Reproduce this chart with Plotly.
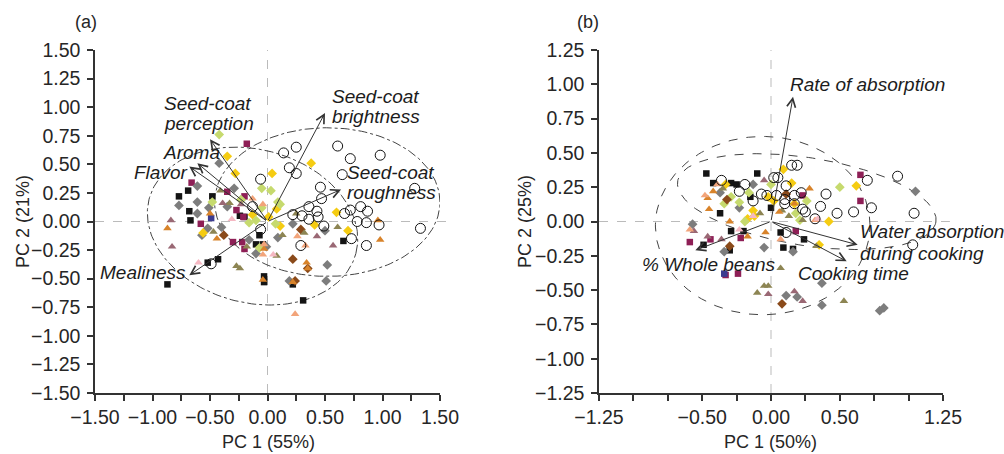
import numpy as np
import plotly.graph_objects as go

# ---------------- Panel (a) data ----------------
a_circle_x = [0.14,0.25,0.61,0.72,0.98,0.19,0.25,-0.06,0.46,0.47,0.65,1.28,1.33,0.36,0.43,0.22,0.30,0.36,0.44,0.49,0.72,0.67,0.81,0.87,0.78,0.86,0.97,0.73,0.86,0.29,-0.06,-0.49,-0.13]
a_circle_y = [0.60,0.65,0.66,0.55,0.58,0.47,0.42,0.37,0.30,0.20,0.41,0.29,-0.06,0.13,0.09,0.06,0.05,0.02,0.04,-0.04,0.10,0.07,0.13,0.09,0.00,-0.01,-0.03,-0.15,-0.21,-0.21,-0.07,-0.37,0.13]
a_black_x = [-0.77,-0.69,-0.68,-0.67,-0.48,-0.24,-0.20,-0.07,-0.10,-0.04,-0.03,-0.03,-0.52,-0.43,-0.87,0.22,0.31,0.66]
a_black_y = [0.22,0.27,0.09,0.01,0.22,0.05,0.04,-0.12,-0.20,-0.20,-0.48,-0.53,-0.36,-0.33,-0.55,-0.55,-0.69,-0.17]
a_maroon_x = [-0.18,-0.66,-0.35,-0.20,-0.27,-0.21,-0.58,-0.30,-0.22,-0.20]
a_maroon_y = [0.68,0.34,0.26,0.22,0.10,0.04,-0.02,-0.18,-0.18,-0.24]
a_gray_x = [-0.42,-0.61,-0.77,-0.61,-0.61,-0.57,-0.52,-0.51,-0.29,-0.23,-0.16,-0.10,0.22,0.09,0.50,0.19,0.51,0.52,-0.35,-0.01,-0.40]
a_gray_y = [0.51,0.31,0.14,0.17,0.07,-0.12,-0.06,0.12,0.29,0.19,-0.16,-0.28,-0.02,-0.14,-0.08,-0.52,-0.52,-0.38,0.13,-0.22,-0.05]
a_yellow_x = [-0.35,-0.28,0.04,0.38,0.01,0.08,0.11,0.41,0.60,0.70,-0.13,-0.56]
a_yellow_y = [0.57,0.42,0.42,0.51,0.04,0.11,-0.04,-0.03,0.08,-0.08,0.06,-0.10]
a_lgreen_x = [-0.42,-0.48,-0.16,-0.10,-0.05,0.03,0.09,0.11,0.07,-0.07,-0.23,-0.05]
a_lgreen_y = [0.76,0.17,-0.01,0.01,0.29,0.27,0.17,0.15,-0.02,-0.23,0.19,0.12]
a_olive_x = [-0.41,-0.33,-0.47,-0.27,-0.24,-0.18,0.08,0.13,0.32,0.61,0.25]
a_olive_y = [0.27,0.16,-0.09,-0.39,-0.41,-0.22,-0.30,-0.12,-0.10,-0.05,0.07]
a_mauve_x = [-0.84,-0.83,-0.39,-0.23,0.43,0.57]
a_mauve_y = [0.01,-0.22,0.16,0.15,-0.13,-0.21]
a_orange_x = [-0.87,-0.50,-0.44,-0.03,-0.04,0.34,0.35,0.96,0.98,0.22]
a_orange_y = [-0.06,0.07,-0.15,-0.24,-0.51,-0.36,-0.41,0.01,-0.16,-0.53]
a_salmon_x = [-0.04,-0.04,0.26,0.33,0.24,-0.13,-0.03]
a_salmon_y = [0.15,-0.29,-0.13,-0.21,-0.81,0.20,-0.20]
a_brown_x = [0.29,0.22,0.35,0.24,-0.38]
a_brown_y = [-0.07,-0.33,-0.41,-0.52,-0.12]
a_pink_x = [-0.60,-0.31,0.05]
a_pink_y = [-0.36,0.02,-0.29]
a_navy_x = [-0.49]
a_navy_y = [0.03]

a_load_names = [["Seed-coat", "brightness"], ["Seed-coat", "roughness"], ["Seed-coat", "perception"], ["Aroma"], ["Flavor"], ["Mealiness"]]
a_load_x = [0.50, 0.64, -0.50, -0.61, -0.68, -0.68]
a_load_y = [0.95, 0.28, 0.72, 0.51, 0.48, -0.47]
a_label_x = [0.54, 0.67, -0.92, -0.93, -1.18, -1.47]
a_label_y = [1.09, 0.43, 1.03, 0.60, 0.43, -0.45]

# ellipse params: cx, cy, a, b, angle(deg)
a_ell = [[0.52, 0.17, 0.98, 0.65, 0.0], [-0.13, -0.04, 0.93, 0.67, -15.0]]

# ---------------- Panel (b) data ----------------
b_circle_x = [-0.36,-0.19,-0.23,-0.13,-0.07,-0.03,0.02,0.05,0.15,0.19,0.11,0.04,0.10,0.10,0.17,0.22,0.17,0.23,0.25,0.32,0.36,0.40,0.48,0.60,0.70,0.73,0.92,1.04,1.03,0.11]
b_circle_y = [0.30,0.27,0.22,0.15,0.20,0.19,0.32,0.32,0.41,0.41,0.26,0.19,0.16,0.13,0.19,0.21,0.13,0.09,0.07,0.02,0.11,0.20,0.06,0.07,0.30,0.10,0.33,0.06,-0.17,-0.08]
b_black_x = [-0.47,-0.42,-0.29,-0.25,-0.10,-0.15,0.00,-0.37,-0.29,-0.20,-0.49,-0.30,0.07,0.09,0.16,0.24]
b_black_y = [0.35,0.28,0.28,0.27,0.35,0.18,0.10,0.06,-0.07,-0.07,-0.17,-0.21,-0.08,-0.19,-0.20,-0.13]
b_maroon_x = [-0.59,-0.44,-0.22,-0.33,-0.24,0.65,0.65,0.18,0.23]
b_maroon_y = [-0.15,-0.13,-0.12,-0.39,-0.38,0.34,0.15,-0.07,0.19]
b_gray_x = [-0.57,-0.37,-0.13,-0.05,0.16,0.37,0.37,0.11,0.19,0.79,0.82,1.05,-0.23,-0.34]
b_gray_y = [-0.02,0.21,0.27,-0.19,-0.22,-0.45,-0.61,-0.54,-0.55,-0.65,-0.63,0.22,0.10,-0.22]
b_yellow_x = [0.09,0.15,-0.33,-0.02,-0.13,-0.17,0.17,0.42,0.62,0.35,0.02,-0.12]
b_yellow_y = [0.38,0.28,0.27,0.18,0.08,0.02,0.13,0.00,0.26,-0.17,0.15,0.04]
b_lgreen_x = [-0.29,-0.23,-0.16,-0.34,0.00,0.21,0.26,0.50,0.18,-0.19]
b_lgreen_y = [0.18,0.14,0.21,0.13,0.27,0.01,0.15,0.25,0.06,0.00]
b_olive_x = [-0.35,-0.08,0.08,0.13,0.23,0.07,-0.05,-0.02,-0.10,0.53,0.33]
b_olive_y = [0.24,0.06,0.08,0.04,0.01,-0.34,-0.47,-0.47,-0.52,-0.58,-0.18]
b_mauve_x = [-0.05,-0.56,-0.46,-0.36,-0.02,0.17,0.23]
b_mauve_y = [0.30,-0.07,-0.11,-0.13,-0.53,-0.51,-0.58]
b_orange_x = [-0.42,-0.46,-0.45,-0.30,-0.17,-0.04,0.06,0.17,0.28]
b_orange_y = [0.22,0.17,0.09,0.00,-0.11,-0.08,0.07,0.13,0.24]
b_salmon_x = [-0.48,-0.39,-0.59,0.07,0.32]
b_salmon_y = [0.19,0.27,-0.06,-0.13,0.01]
b_brown_x = [-0.32,-0.30,0.08,0.11]
b_brown_y = [0.16,-0.18,-0.60,0.20]
b_pink_x = [0.34,-0.23,-0.13]
b_pink_y = [0.02,-0.06,0.04]
b_navy_x = [-0.34]
b_navy_y = [-0.38]

b_load_names = [["Rate of absorption"], ["Water absorption", "during cooking"], ["Cooking time"], ["% Whole beans"]]
b_load_x = [0.16, 0.63, 0.55, -0.55]
b_load_y = [0.91, -0.17, -0.29, -0.21]
b_label_x = [0.12, 0.63, 0.18, -0.95]
b_label_y = [1.00, -0.075, -0.38, -0.31]

b_ell = [[-0.06, -0.03, 0.78, 0.65, 0.0], [0.26, 0.145, 0.95, 0.32, -9.0]]

# ---------------- styles ----------------
groups = [
    ("black", "square", "#141414", 6.5),
    ("maroon", "square", "#8E1F56", 6.5),
    ("navy", "square", "#3C3C90", 6.5),
    ("gray", "diamond", "#7D7D7D", 7.5),
    ("yellow", "diamond", "#F5CC12", 7.5),
    ("lgreen", "diamond", "#C6DA6E", 7.5),
    ("brown", "diamond", "#8A4A1A", 7.5),
    ("olive", "triangle-up", "#8D8553", 7.5),
    ("mauve", "triangle-up", "#9A6874", 7.5),
    ("orange", "triangle-up", "#D8832A", 7.5),
    ("salmon", "triangle-up", "#F2A47A", 7.5),
    ("pink", "triangle-up", "#F5B8C3", 7.5),
]

data = globals()
fig = go.Figure()
FONT = "Liberation Sans, Arial, sans-serif"
TXT = "#262626"
LBL = "#1c1c1c"


def ellipse(cx, cy, a, b, ang):
    t = np.linspace(0, 2 * np.pi, 200)
    th = np.deg2rad(ang)
    x = cx + a * np.cos(t) * np.cos(th) - b * np.sin(t) * np.sin(th)
    y = cy + a * np.cos(t) * np.sin(th) + b * np.sin(t) * np.cos(th)
    return x, y


for p, xa, ya, ells, dash in [("a", "x", "y", a_ell, "dashdot"), ("b", "x2", "y2", b_ell, "dash")]:
    for e in ells:
        ex, ey = ellipse(*e)
        fig.add_trace(go.Scatter(x=ex, y=ey, mode="lines", xaxis=xa, yaxis=ya,
                                 line=dict(color="#444", width=1, dash=dash), hoverinfo="skip"))
    for name, sym, col, sz in groups:
        fig.add_trace(go.Scatter(x=data[f"{p}_{name}_x"], y=data[f"{p}_{name}_y"], mode="markers",
                                 xaxis=xa, yaxis=ya,
                                 marker=dict(symbol=sym, color=col, size=sz, line=dict(width=0))))
    fig.add_trace(go.Scatter(x=data[f"{p}_circle_x"], y=data[f"{p}_circle_y"], mode="markers",
                             xaxis=xa, yaxis=ya,
                             marker=dict(symbol="circle-open", color="#111", size=10, line=dict(width=1))))

annotations = []
shapes = []

for p, xa, ya in [("a", "x", "y"), ("b", "x2", "y2")]:
    shapes.append(dict(type="line", xref=xa, yref=f"{ya} domain", x0=0, x1=0, y0=0, y1=1,
                       line=dict(color="#BBBBBB", width=1, dash="dash"), layer="below"))
    shapes.append(dict(type="line", xref=f"{xa} domain", yref=ya, x0=0, x1=1.02, y0=0, y1=0,
                       line=dict(color="#BBBBBB", width=1, dash="dash"), layer="below"))
    lx, ly = data[f"{p}_load_x"], data[f"{p}_load_y"]
    for tx, ty in zip(lx, ly):
        annotations.append(dict(x=tx, y=ty, ax=0, ay=0, xref=xa, yref=ya, axref=xa, ayref=ya,
                                text="", showarrow=True, arrowhead=5, arrowsize=1.7, arrowwidth=1,
                                arrowcolor="#333"))
    for names, bx, by in zip(data[f"{p}_load_names"], data[f"{p}_label_x"], data[f"{p}_label_y"]):
        dy = 0.0
        step = 0.175 if p == "a" else 0.155
        for line in names:
            annotations.append(dict(x=bx, y=by - dy, xref=xa, yref=ya, text=f"<i>{line}</i>",
                                    showarrow=False, xanchor="left", yanchor="middle",
                                    font=dict(family=FONT, size=19, color=LBL)))
            dy += step

W, H = 1004, 454
def px(x, y):
    return x / W, 1 - y / H

for txt, (x, y) in [("(a)", (86, 22)), ("(b)", (588, 22))]:
    xx, yy = px(x, y)
    annotations.append(dict(x=xx, y=yy, xref="paper", yref="paper", text=txt, showarrow=False,
                            xanchor="center", yanchor="middle",
                            font=dict(family=FONT, size=18, color=TXT)))
for txt, (x, y) in [("PC 1 (55%)", (268, 442)), ("PC 1 (50%)", (770, 442))]:
    xx, yy = px(x, y)
    annotations.append(dict(x=xx, y=yy, xref="paper", yref="paper", text=txt, showarrow=False,
                            xanchor="center", yanchor="middle",
                            font=dict(family=FONT, size=18, color=TXT)))
for txt, (x, y) in [("PC 2 (21%)", (23, 222)), ("PC 2 (25%)", (525, 222))]:
    xx, yy = px(x, y)
    annotations.append(dict(x=xx, y=yy, xref="paper", yref="paper", text=txt, showarrow=False,
                            xanchor="center", yanchor="middle",
                            textangle=-90, font=dict(family=FONT, size=18, color=TXT)))


def fmt(v):
    s = f"{abs(v):.2f}"
    return ("\u2212" + s) if v < -1e-9 else s


a_ticks = [round(v, 2) for v in np.arange(-1.5, 1.501, 0.25)]
a_xtext = [fmt(v) if abs(round(v / 0.5) * 0.5 - v) < 1e-9 else "" for v in a_ticks]
a_ytext = [fmt(v) for v in a_ticks]
b_ticks = [round(v, 2) for v in np.arange(-1.25, 1.251, 0.25)]
b_xshow = [-1.25, -0.5, 0.0, 0.5, 1.25]
b_xtext = [fmt(v) if any(abs(v - s) < 1e-9 for s in b_xshow) else "" for v in b_ticks]
b_ytext = [fmt(v) for v in b_ticks]

ydom = [(H - 393) / H, (H - 50) / H]
axis_common = dict(showgrid=False, zeroline=False, showline=True, linecolor="#333", linewidth=1.5,
                   ticks="outside", ticklen=6, tickwidth=1.5, tickcolor="#333", automargin=False,
                   tickfont=dict(family=FONT, size=19.5, color=TXT))

fig.update_layout(
    width=W, height=H, margin=dict(l=0, r=0, t=0, b=0, autoexpand=False),
    paper_bgcolor="white", plot_bgcolor="white", showlegend=False,
    xaxis=dict(domain=[95 / W, 440 / W], range=[-1.5, 1.5], tickvals=a_ticks, ticktext=a_xtext,
               anchor="y", **axis_common),
    yaxis=dict(domain=ydom, range=[-1.5, 1.5], tickvals=a_ticks, ticktext=a_ytext, anchor="x",
               ticklabelstandoff=3, **axis_common),
    xaxis2=dict(domain=[599 / W, 943 / W], range=[-1.25, 1.25], tickvals=b_ticks, ticktext=b_xtext,
                anchor="y2", **axis_common),
    yaxis2=dict(domain=ydom, range=[-1.25, 1.25], tickvals=b_ticks, ticktext=b_ytext, anchor="x2",
                ticklabelstandoff=3, **axis_common),
    annotations=annotations, shapes=shapes,
)

fig.write_html("out.html", config={"displayModeBar": False},
               post_script="document.body.style.margin='0';document.body.style.overflow='hidden';")
